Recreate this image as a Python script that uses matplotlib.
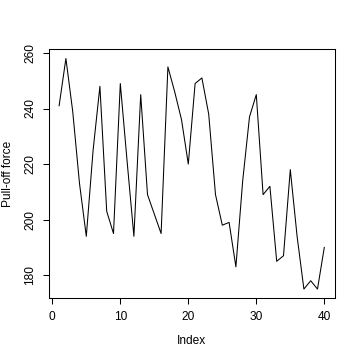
import matplotlib
matplotlib.use("Agg")
import matplotlib.pyplot as plt
import numpy as np

index = list(range(1, 41))
force = [241, 258, 239, 213, 194, 225, 248, 203, 195, 249,
         221, 194, 245, 209, 202, 195, 255, 246, 236, 220,
         249, 251, 238, 209, 198, 199, 183, 214, 237, 245,
         209, 212, 185, 187, 218, 194, 175, 178, 175, 190]
xticks = [0, 10, 20, 30, 40]
yticks = [180, 200, 220, 240, 260]

plt.rcParams['font.family'] = ['Liberation Sans', 'DejaVu Sans']
plt.rcParams['font.size'] = 8.6

fig = plt.figure(figsize=(3.6, 3.6), dpi=100)
ax = fig.add_axes([48.5/360, 1 - 298.3/360, (334.9-48.5)/360, (298.3-49.3)/360])
ax.plot(index, force, color='black', linewidth=0.75)

xr = (max(index) - min(index)) * 0.04
ax.set_xlim(min(index) - xr, max(index) + xr)
yr = (max(force) - min(force)) * 0.04
ax.set_ylim(min(force) - yr, max(force) + yr)

ax.set_xticks(xticks)
ax.set_yticks(yticks)
ax.set_yticklabels([str(v) for v in yticks], rotation=90, va='center')
ax.tick_params(direction='out', length=4.3, width=0.75, color='black', pad=4.5)
for s in ax.spines.values():
    s.set_linewidth(0.75)
    s.set_color('black')

fig.text(191.5/360, 1 - 341/360, 'Index', ha='center', va='center')
fig.text(8/360, 1 - 174/360, 'Pull-off force', ha='center', va='center', rotation=90)

fig.savefig('out.png', dpi=100)
